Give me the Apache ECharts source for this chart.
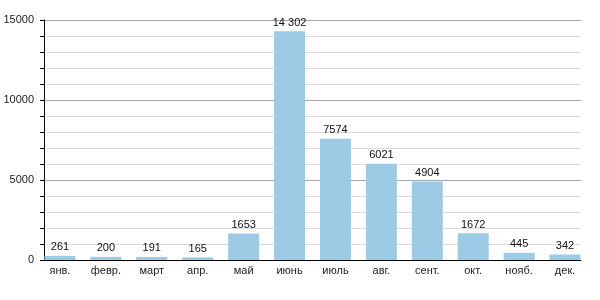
<!DOCTYPE html>
<html><head><meta charset="utf-8">
<script src="https://cdn.jsdelivr.net/npm/echarts@6/dist/echarts.min.js"></script>
<style>html,body{margin:0;padding:0;background:#fff}#c{width:600px;height:300px}</style>
</head><body><div id="c"></div>
<script>
const months = ['янв.','февр.','март','апр.','май','июнь','июль','авг.','сент.','окт.','нояб.','дек.'];
const values = [261,200,191,165,1653,14302,7574,6021,4904,1672,445,342];
const yTicks = [0,5000,10000,15000];

const font = 'Liberation Sans, Arial, sans-serif';
const chart = echarts.init(document.getElementById('c'));
chart.setOption({
  animation:false,
  grid:[
    {left:44,right:19,top:20,bottom:40},
    {left:37,right:12,top:20,bottom:40}
  ],
  xAxis:[
    {gridIndex:0,type:'value',min:0,max:1,axisLine:{show:true,onZero:false,lineStyle:{color:'#000',width:1}},
     axisTick:{show:false},axisLabel:{show:false},splitLine:{show:false}},
    {gridIndex:1,type:'category',data:months,axisLine:{show:false},axisTick:{show:false},
     axisLabel:{color:'#222',fontFamily:font,fontSize:11,margin:5,interval:0}}
  ],
  yAxis:[
    {gridIndex:0,type:'value',min:yTicks[0],max:yTicks[yTicks.length-1],interval:5000,
     axisLine:{show:true,lineStyle:{color:'#000',width:1}},
     axisTick:{show:true,length:4,lineStyle:{color:'#000'}},
     minorTick:{show:true,splitNumber:5,length:4,lineStyle:{color:'#000'}},
     splitLine:{show:true,lineStyle:{color:'#a6a6a6',width:1}},
     minorSplitLine:{show:true,lineStyle:{color:'#dcdcdc',width:1}},
     axisLabel:{color:'#222',fontFamily:font,fontSize:11,margin:10,formatter:v=>String(v)}},
    {gridIndex:1,type:'value',min:0,max:15000,show:false,splitLine:{show:false}}
  ],
  series:[{
    type:'bar',xAxisIndex:1,yAxisIndex:1,data:values,barWidth:31,
    itemStyle:{color:'#9dcbe5'},
    label:{show:true,position:'top',distance:3,color:'#111',fontFamily:font,fontSize:11,
      formatter:p=>{const v=p.value;return v>=10000?String(v).replace(/(\d)(?=(\d{3})+$)/g,'$1 '):String(v);}}
  }]
});
</script></body></html>
